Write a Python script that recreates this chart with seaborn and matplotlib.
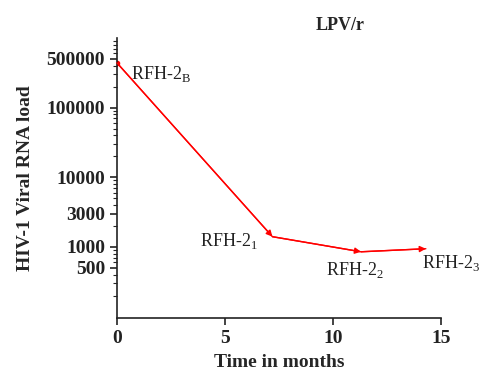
import numpy as np
import pandas as pd
import matplotlib
matplotlib.use("Agg")
import matplotlib.pyplot as plt
import seaborn as sns
from matplotlib.ticker import FixedLocator, LogLocator, NullFormatter

# data
months = [0, 7.2, 11.3, 14.3]
viral_load = [440000, 1400, 850, 940]
sample_labels = [r"RFH-2$_\mathregular{B}$", r"RFH-2$_\mathregular{1}$",
                 r"RFH-2$_\mathregular{2}$", r"RFH-2$_\mathregular{3}$"]
y_ticks = [500, 1000, 3000, 10000, 100000, 500000]
x_ticks = [0, 5, 10, 15]

sns.set_style("ticks")
plt.rcParams["font.family"] = ["Liberation Serif", "DejaVu Serif"]
plt.rcParams["mathtext.fontset"] = "custom"
plt.rcParams["mathtext.rm"] = "Liberation Serif"

df = pd.DataFrame({"month": months, "load": viral_load})

fig = plt.figure(figsize=(4.83, 3.72), dpi=100)
ax = fig.add_axes([0.242, 0.145, 0.671, 0.753])

sns.lineplot(data=df, x="month", y="load", color="red", linewidth=1, ax=ax)
ax.plot(months[0], viral_load[0], "o", color="red", markersize=3)

# arrowheads at each following point
for i in range(1, len(months)):
    ax.annotate("", xy=(months[i], viral_load[i]),
                xytext=(months[i - 1], viral_load[i - 1]),
                arrowprops=dict(arrowstyle="-|>", color="red", lw=1,
                                mutation_scale=9, shrinkA=0, shrinkB=0))

offsets = [(10, -8), (-52, -3), (-25, -13), (-3, -10)]
for x, y, lab, off in zip(months, viral_load, sample_labels, offsets):
    ax.annotate(lab, xy=(x, y), xytext=off, textcoords="offset points",
                fontsize=13, color="#222222", va="center", ha="left",
                annotation_clip=False)

ax.set_yscale("log")
ax.set_ylim(95, 1000000)
ax.set_xlim(0, 15)
ax.yaxis.set_major_locator(FixedLocator(y_ticks))
ax.set_yticklabels([str(t) for t in y_ticks])
ax.yaxis.set_minor_locator(LogLocator(base=10, subs=np.arange(2, 10)))
ax.yaxis.set_minor_formatter(NullFormatter())
ax.set_xticks(x_ticks)

for lab in ax.get_xticklabels() + ax.get_yticklabels():
    lab.set_fontweight("bold")
    lab.set_fontsize(14)
ax.tick_params(axis="both", direction="out", length=5, width=1.2, colors="#222222")
ax.tick_params(axis="y", which="minor", length=3, width=0.8)

ax.set_xlabel("Time in months", fontsize=14, fontweight="bold", labelpad=5)
ax.set_ylabel("HIV-1 Viral RNA load", fontsize=14, fontweight="bold", labelpad=9)
ax.text(0.69, 1.03, "LPV/r", transform=ax.transAxes, ha="center",
        fontsize=13, fontweight="bold")

sns.despine(ax=ax)
for sp in ["left", "bottom"]:
    ax.spines[sp].set_linewidth(1.2)
    ax.spines[sp].set_color("#222222")

fig.savefig("out.png", dpi=100)
